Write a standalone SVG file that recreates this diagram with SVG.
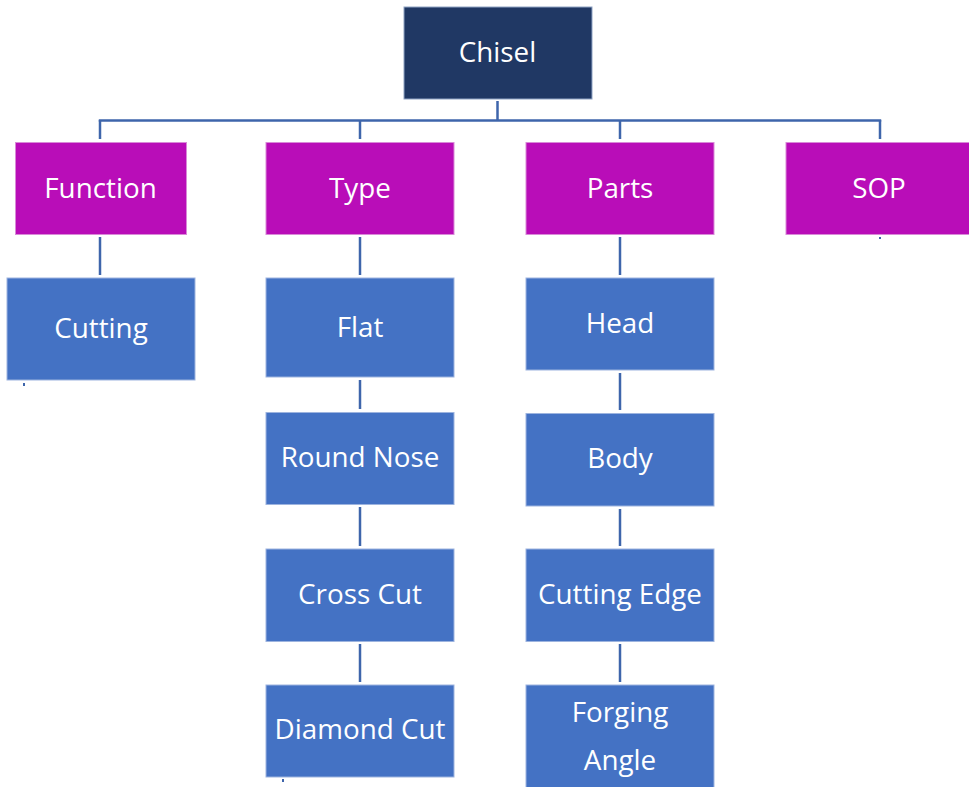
<svg xmlns="http://www.w3.org/2000/svg" width="969" height="787" viewBox="0 0 969 787">
  <style>
    .root rect { fill: #203864; stroke: #8fa3c4; stroke-width: 1; }
    .cat rect { fill: #b90db8; stroke: #d98ad8; stroke-width: 1; }
    .leaf rect { fill: #4472c4; stroke: #9db4df; stroke-width: 1; }
    text { font-family: "Open Sans", "Liberation Sans", sans-serif; font-size: 27.8px; fill: #ffffff; text-anchor: middle; }
    .conn line { stroke: #3e65ab; stroke-width: 2.5; fill: none; }
    .conn rect { fill: #3e65ab; }
  </style>
  <rect width="969" height="787" fill="#ffffff"/>

  <!-- connectors -->
  <g id="connectors" class="conn">
    <line x1="497.5" y1="101" x2="497.5" y2="121"/>
    <line x1="98.8" y1="120.5" x2="881.2" y2="120.5"/>
    <line x1="100" y1="120" x2="100" y2="139"/>
    <line x1="360" y1="120" x2="360" y2="139"/>
    <line x1="620" y1="120" x2="620" y2="139"/>
    <line x1="880" y1="120" x2="880" y2="139"/>
    <!-- Function column -->
    <line x1="100" y1="237" x2="100" y2="275"/>
    <!-- Type column -->
    <line x1="360" y1="237" x2="360" y2="275"/>
    <line x1="360" y1="380" x2="360" y2="409"/>
    <line x1="360" y1="507" x2="360" y2="546"/>
    <line x1="360" y1="644" x2="360" y2="682"/>
    <!-- Parts column -->
    <line x1="620" y1="237" x2="620" y2="275"/>
    <line x1="620" y1="373" x2="620" y2="410"/>
    <line x1="620" y1="509" x2="620" y2="546"/>
    <line x1="620" y1="644" x2="620" y2="682"/>
    <!-- short stubs -->
    <rect x="23" y="383" width="2" height="3"/>
    <rect x="879" y="237" width="2" height="2"/>
    <rect x="282" y="779" width="2" height="3"/>
  </g>

  <g id="chisel" class="root">
    <rect x="404" y="7" width="188" height="92"/>
    <text x="497.5" y="62">Chisel</text>
  </g>

  <g id="function" class="cat">
    <rect x="15.5" y="142.5" width="171" height="92"/>
    <text x="100.5" y="198">Function</text>
  </g>
  <g id="type" class="cat">
    <rect x="266" y="142.5" width="188" height="92"/>
    <text x="360" y="198">Type</text>
  </g>
  <g id="parts" class="cat">
    <rect x="526" y="142.5" width="188" height="92"/>
    <text x="620" y="198">Parts</text>
  </g>
  <g id="sop" class="cat">
    <rect x="786" y="142.5" width="184" height="92"/>
    <text x="879" y="198">SOP</text>
  </g>

  <g id="cutting" class="leaf">
    <rect x="7" y="278" width="188" height="102"/>
    <text x="101" y="338">Cutting</text>
  </g>

  <g id="flat" class="leaf">
    <rect x="266" y="278" width="188" height="99"/>
    <text x="360" y="337">Flat</text>
  </g>
  <g id="round-nose" class="leaf">
    <rect x="266" y="412.5" width="188" height="92"/>
    <text x="360" y="467">Round Nose</text>
  </g>
  <g id="cross-cut" class="leaf">
    <rect x="266" y="549" width="188" height="92.5"/>
    <text x="360" y="604">Cross Cut</text>
  </g>
  <g id="diamond-cut" class="leaf">
    <rect x="266" y="685" width="188" height="92"/>
    <text x="360" y="739">Diamond Cut</text>
  </g>

  <g id="head" class="leaf">
    <rect x="526" y="278" width="188" height="92"/>
    <text x="620" y="333">Head</text>
  </g>
  <g id="body" class="leaf">
    <rect x="526" y="413.5" width="188" height="92.5"/>
    <text x="620" y="468">Body</text>
  </g>
  <g id="cutting-edge" class="leaf">
    <rect x="526" y="549" width="188" height="92.5"/>
    <text x="620" y="604">Cutting Edge</text>
  </g>
  <g id="forging-angle" class="leaf">
    <rect x="526" y="685" width="188" height="110"/>
    <text x="620" y="722">Forging</text>
    <text x="620" y="770">Angle</text>
  </g>
</svg>
